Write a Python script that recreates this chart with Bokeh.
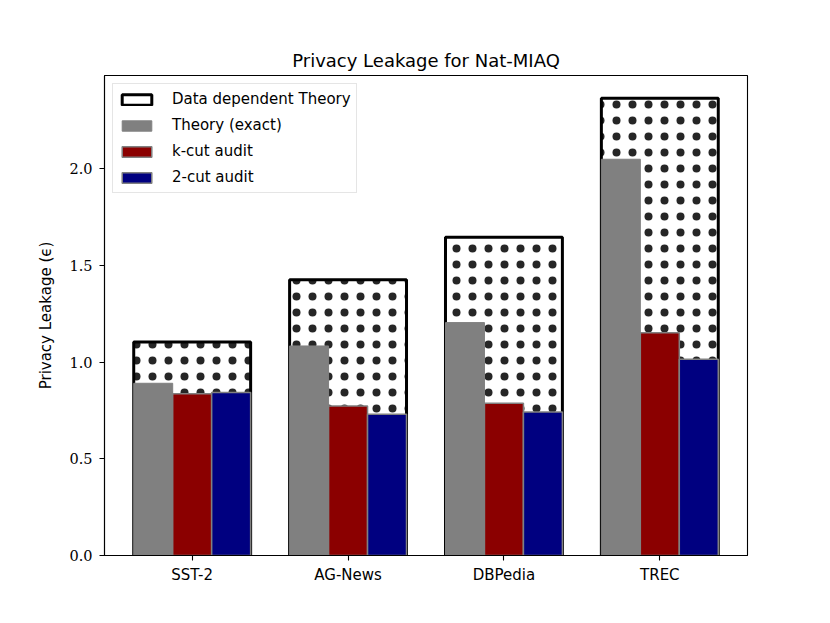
from bokeh.plotting import figure
from bokeh.models import (Range1d, FixedTicker, Legend, LegendItem,
                          NumeralTickFormatter, ColumnDataSource)
from bokeh.transform import dodge
from bokeh.embed import file_html
from bokeh.resources import INLINE

# ---- data ----
datasets = ["SST-2", "AG-News", "DBPedia", "TREC"]
data_dependent_theory = [1.105, 1.426, 1.646, 2.365]
theory_exact = [0.891, 1.084, 1.205, 2.050]
kcut_audit = [0.837, 0.774, 0.788, 1.153]
twocut_audit = [0.843, 0.731, 0.743, 1.015]
y_ticks = [0.0, 0.5, 1.0, 1.5, 2.0]

xs = list(range(len(datasets)))
src = ColumnDataSource(dict(x=xs, dd=data_dependent_theory, th=theory_exact,
                            kc=kcut_audit, tc=twocut_audit))

SANS = "DejaVu Sans"
SERIF = "DejaVu Serif"

p = figure(width=812, height=605, output_backend="svg", toolbar_location=None,
           x_range=Range1d(-0.5625, 3.5625),
           y_range=Range1d(0, max(data_dependent_theory) * 1.05),
           min_border_left=104, min_border_right=65, min_border_top=75,
           min_border_bottom=50, title="Privacy Leakage for Nat-MIAQ")

p.title.align = "center"
p.title.text_font = SANS
p.title.text_font_size = "18px"
p.title.text_font_style = "normal"
p.title.text_color = "black"
p.title.standoff = 9

p.xgrid.visible = False
p.ygrid.visible = False
p.outline_line_color = "black"
p.outline_line_width = 1.1
p.outline_line_alpha = 1.0

# bars: hatched fill, then black outline, then the three inner bars
r_dd_hatch = p.vbar(x="x", top="dd", width=0.75, bottom=0, source=src,
                    fill_color="white", line_color=None,
                    hatch_pattern="dot", hatch_color="black",
                    hatch_scale=16, hatch_alpha=0.85)
r_dd = p.vbar(x="x", top="dd", width=0.75, bottom=0, source=src,
              fill_color=None, line_color="black", line_width=3)
r_th = p.vbar(x=dodge("x", -0.25), top="th", width=0.25, bottom=0, source=src,
              fill_color="#808080", line_color="#808080", line_width=1)
r_kc = p.vbar(x="x", top="kc", width=0.25, bottom=0, source=src,
              fill_color="#8b0000", line_color="#808080", line_width=1.5)
r_tc = p.vbar(x=dodge("x", 0.25), top="tc", width=0.25, bottom=0, source=src,
              fill_color="#000080", line_color="#808080", line_width=1.5)

# axes
p.xaxis.ticker = FixedTicker(ticks=xs)
p.xaxis.major_label_overrides = {i: n for i, n in zip(xs, datasets)}
p.yaxis.ticker = FixedTicker(ticks=y_ticks)
p.yaxis.formatter = NumeralTickFormatter(format="0.0")
for ax in (p.xaxis, p.yaxis):
    ax.minor_tick_line_color = None
    ax.major_tick_in = 0
    ax.major_tick_out = 5
    ax.axis_line_color = "black"
    ax.axis_line_width = 1.1
    ax.major_tick_line_width = 1.1
    ax.major_label_text_color = "black"
p.xaxis.major_label_text_font = SANS
p.xaxis.major_label_text_font_size = "15px"
p.xaxis.major_label_standoff = 5
p.yaxis.major_label_text_font = SERIF
p.yaxis.major_label_text_font_size = "14.5px"
p.yaxis.major_label_standoff = 7
p.yaxis.axis_label = "Privacy Leakage (ϵ)"
p.yaxis.axis_label_text_font = SANS
p.yaxis.axis_label_text_font_style = "normal"
p.yaxis.axis_label_text_font_size = "15px"
p.yaxis.axis_label_text_color = "black"
p.yaxis.axis_label_standoff = 11

legend = Legend(items=[
    LegendItem(label="Data dependent Theory", renderers=[r_dd]),
    LegendItem(label="Theory (exact)", renderers=[r_th]),
    LegendItem(label="k-cut audit", renderers=[r_kc]),
    LegendItem(label="2-cut audit", renderers=[r_tc]),
], location="top_left")
legend.margin = 8
legend.padding = 5
legend.spacing = 6
legend.glyph_width = 37
legend.glyph_height = 13
legend.label_height = 20
legend.label_standoff = 17
legend.label_text_font = SANS
legend.label_text_font_size = "15px"
legend.label_text_color = "black"
legend.border_line_color = "#cccccc"
legend.border_line_width = 1
legend.background_fill_color = "white"
legend.background_fill_alpha = 0.8
p.add_layout(legend)

open("out.html", "w").write(file_html(p, INLINE))
